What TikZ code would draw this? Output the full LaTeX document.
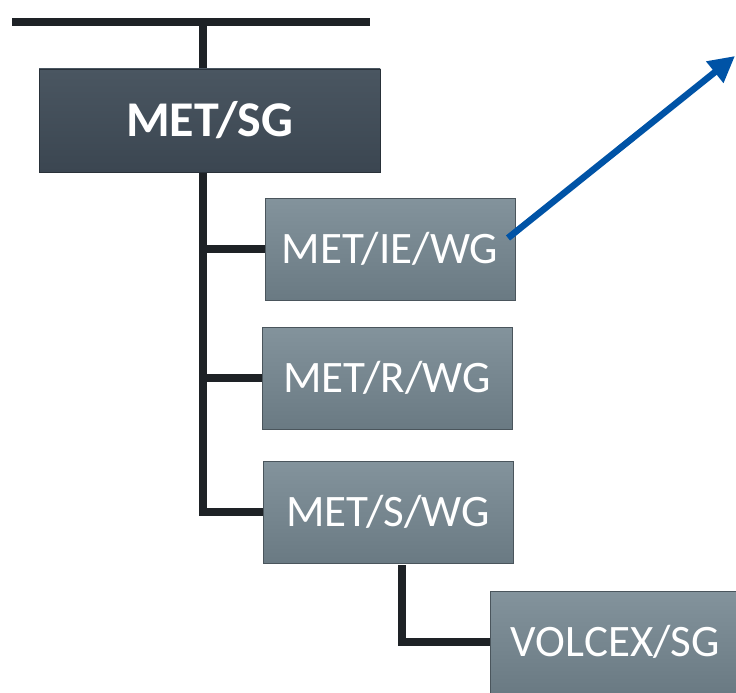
\documentclass[tikz,border=0pt]{standalone}
\usepackage{fontspec}
\setmainfont{Carlito}
\usetikzlibrary{arrows.meta}
\definecolor{darkbox}{HTML}{3B4651}
\definecolor{darkboxtop}{HTML}{4A5661}
\definecolor{greybox}{HTML}{6A7A83}
\definecolor{greyboxtop}{HTML}{83939C}
\definecolor{arrowblue}{HTML}{0053A6}
\definecolor{linecol}{HTML}{1E2226}
\tikzset{
  topbox/.style={rectangle, draw=darkbox!70!black, line width=0.8pt, top color=darkboxtop, bottom color=darkbox,
    minimum width=341pt, minimum height=103pt, inner sep=0pt, text=white,
    font=\fontsize{50}{50}\selectfont\bfseries},
  wgbox/.style={rectangle, draw=greybox!70!black, line width=0.8pt, top color=greyboxtop, bottom color=greybox,
    minimum width=250pt, minimum height=102pt, inner sep=0pt, text=white,
    font=\fontsize{45}{45}\selectfont},
  treeline/.style={draw=linecol, line width=8pt},
  bluearrow/.style={draw=arrowblue, line width=6.5pt, -{Triangle[length=26pt,width=26pt]}}
}
\begin{document}
\begin{tikzpicture}[x=1pt,y=-1pt]
\useasboundingbox (0,0) rectangle (736,693);
\begin{scope}
\clip (0,0) rectangle (736,693);
% top bar
\coordinate (tl) at (12,22);
\coordinate (tr) at (370,22);
\coordinate (tm) at (203,22);
\node[topbox] (sg) at (209.5,120.5) {MET/SG};
\node[wgbox] (ie) at (390,249) {MET/IE/WG};
\node[wgbox] (r) at (387,378) {MET/R/WG};
\node[wgbox] (s) at (388,512) {MET/S/WG};
\node[wgbox, anchor=west] (v) at (490,642) {VOLCEX/SG};
\coordinate (spinetop) at (203,172);
\coordinate (stem) at (402,565);
% lines
\draw[treeline] (tl) -- (tr);
\draw[treeline] (tm) -- (tm |- sg.north);
\draw[treeline] (spinetop) -- (spinetop |- ie.west) -- (ie.west);
\draw[treeline] (spinetop |- ie.west) -- (spinetop |- r.west) -- (r.west);
\draw[treeline] (spinetop |- r.west) |- (s.west);
\draw[treeline] (stem) |- (v.west);
% redraw boxes above lines
\node[topbox] at (sg) {MET/SG};
\node[wgbox] at (ie) {MET/IE/WG};
\node[wgbox] at (r) {MET/R/WG};
\node[wgbox] at (s) {MET/S/WG};
\node[wgbox] at (v) {VOLCEX/SG};
\coordinate (arrstart) at (508,238);
\coordinate (arrend) at (735,56);
\draw[bluearrow] (arrstart) -- (arrend);
\end{scope}
\end{tikzpicture}
\end{document}
